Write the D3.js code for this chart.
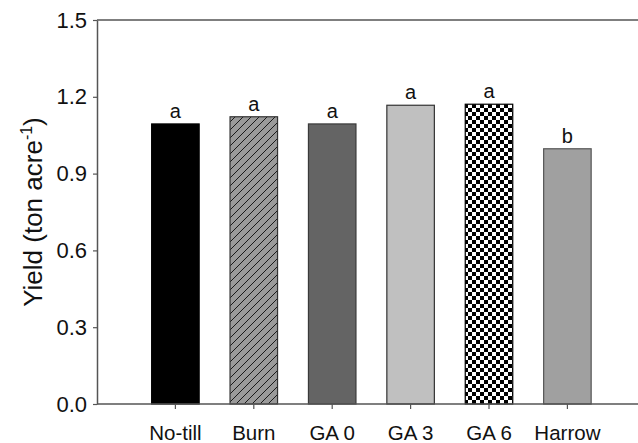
<!DOCTYPE html>
<html><head><meta charset="utf-8">
<script src="https://cdn.jsdelivr.net/npm/d3@7"></script>
<style>
body{margin:0;background:#fff;}
svg{display:block;font-family:"Liberation Sans",Arial,sans-serif;}
</style></head>
<body>
<svg id="chart" width="638" height="443"></svg>
<script>
const categories = ["No-till","Burn","GA 0","GA 3","GA 6","Harrow"];
const yields = [1.094, 1.122, 1.094, 1.167, 1.171, 0.997];
const letters = ["a","a","a","a","a","b"];
const yTicks = [0.0, 0.3, 0.6, 0.9, 1.2, 1.5];
const fills = ["#000000","url(#hatch)","#646464","#c0c0c0","url(#checker)","#a0a0a0"];
const strokes = ["#000000","#333333","#3a3a3a","#333333","#000000","#555555"];

const W = 638, H = 443;
const plotLeft = 97, plotTop = 20, plotBottom = 404;
const step = 78.4;
const svg = d3.select("#chart");

const defs = svg.append("defs");
const hatch = defs.append("pattern").attr("id","hatch").attr("patternUnits","userSpaceOnUse")
  .attr("width",8).attr("height",8);
hatch.append("rect").attr("width",8).attr("height",8).attr("fill","#9a9a9a");
hatch.append("path").attr("d","M-2,2 L2,-2 M0,8 L8,0 M6,10 L10,6")
  .attr("stroke","#1a1a1a").attr("stroke-width",1);

const checker = defs.append("pattern").attr("id","checker").attr("patternUnits","userSpaceOnUse")
  .attr("width",8).attr("height",8);
checker.append("rect").attr("width",8).attr("height",8).attr("fill","#ffffff");
checker.append("rect").attr("width",4).attr("height",4).attr("fill","#000");
checker.append("rect").attr("x",4).attr("y",4).attr("width",4).attr("height",4).attr("fill","#000");

const x = d3.scaleBand().domain(categories)
  .range([plotLeft + step/2, plotLeft + 6.5*step]).paddingInner(0.394).paddingOuter(0.197);
const y = d3.scaleLinear().domain([0,1.5]).range([plotBottom, plotTop]);

// bars
svg.append("g").selectAll("rect").data(categories).join("rect")
  .attr("x", d => x(d)).attr("y", (d,i) => y(yields[i]))
  .attr("width", x.bandwidth()).attr("height", (d,i) => y(0) - y(yields[i]))
  .attr("fill", (d,i) => fills[i]).attr("stroke", (d,i) => strokes[i]).attr("stroke-width",1.2);

// letters
svg.append("g").selectAll("text").data(categories).join("text")
  .attr("x", d => x(d) + x.bandwidth()/2).attr("y", (d,i) => y(yields[i]) - 6)
  .attr("text-anchor","middle").attr("font-size",20).attr("fill","#111")
  .text((d,i) => letters[i]);

// frame lines
const lineColor = "#555";
svg.append("line").attr("x1",plotLeft).attr("x2",W).attr("y1",plotTop).attr("y2",plotTop)
  .attr("stroke",lineColor).attr("stroke-width",1.5);
svg.append("line").attr("x1",plotLeft).attr("x2",W).attr("y1",plotBottom).attr("y2",plotBottom)
  .attr("stroke",lineColor).attr("stroke-width",1.5);

// y axis
const yAxis = svg.append("g").attr("transform",`translate(${plotLeft},0)`)
  .call(d3.axisLeft(y).tickValues(yTicks).tickFormat(d3.format(".1f")).tickSize(4).tickSizeOuter(0).tickPadding(6));
yAxis.select(".domain").attr("stroke",lineColor).attr("stroke-width",1.5);
yAxis.selectAll(".tick line").attr("stroke",lineColor).attr("stroke-width",1.2);
yAxis.selectAll("text").attr("font-size",22).attr("font-family","Liberation Sans, Arial, sans-serif").attr("fill","#111");

// x axis
const xAxis = svg.append("g").attr("transform",`translate(0,${plotBottom})`)
  .call(d3.axisBottom(x).tickSize(5).tickSizeOuter(0).tickPadding(16));
xAxis.select(".domain").remove();
xAxis.selectAll(".tick line").attr("stroke",lineColor).attr("stroke-width",1.2);
xAxis.selectAll("text").attr("font-size",20.5).attr("font-family","Liberation Sans, Arial, sans-serif").attr("fill","#111");

// y label
const yl = svg.append("text").attr("transform",`translate(42,${(plotTop+plotBottom)/2}) rotate(-90)`)
  .attr("text-anchor","middle").attr("font-size",26).attr("fill","#111");
yl.append("tspan").text("Yield (ton acre");
yl.append("tspan").attr("font-size",16).attr("dy",-10).text("-1");
yl.append("tspan").attr("dy",10).text(")");
</script>
</body></html>
